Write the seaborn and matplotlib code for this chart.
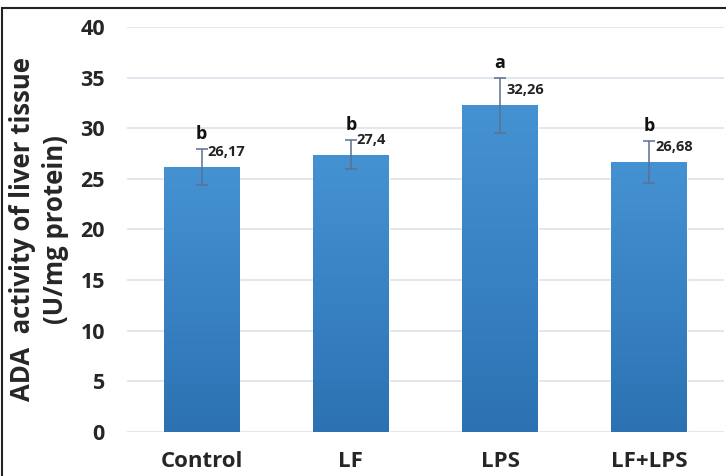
import matplotlib
matplotlib.use("Agg")
import matplotlib.pyplot as plt
import seaborn as sns
import pandas as pd
import numpy as np
from matplotlib.patches import Rectangle

groups = ["Control", "LF", "LPS", "LF+LPS"]
values = [26.17, 27.4, 32.26, 26.68]
errors = [1.8, 1.45, 2.7, 2.05]
value_labels = ["26,17", "27,4", "32,26", "26,68"]
letters = ["b", "b", "a", "b"]
yticks = [0, 5, 10, 15, 20, 25, 30, 35, 40]

sns.set_theme(style="white")
plt.rcParams["font.family"] = ["Open Sans", "DejaVu Sans"]

df = pd.DataFrame({"group": groups, "value": values})

fig = plt.figure(figsize=(7.26, 4.76), dpi=100)
ax = fig.add_axes([0.175, 0.0924, 0.822, 0.851])

sns.barplot(data=df, x="group", y="value", color="#3a86c9", width=0.507,
            saturation=1, ax=ax, errorbar=None)

# vertical gradient inside each bar (lighter at top, darker at bottom)
grad = np.linspace(0, 1, 256).reshape(-1, 1)
cmap = matplotlib.colors.LinearSegmentedColormap.from_list("g", ["#2c72b3", "#4592d3"])
for patch in list(ax.patches):
    x0, y0 = patch.get_x(), patch.get_y()
    w, h = patch.get_width(), patch.get_height()
    im = ax.imshow(grad, extent=[x0, x0 + w, y0, y0 + h], origin="lower",
                   cmap=cmap, aspect="auto", zorder=patch.get_zorder() + 0.1)
    im.set_clip_path(patch)

ax.errorbar(range(len(groups)), values, yerr=errors, fmt="none",
            ecolor="#5b7092", elinewidth=1.1, capsize=4, capthick=1.1, zorder=5)

for i, (v, e, lab, let) in enumerate(zip(values, errors, value_labels, letters)):
    ax.annotate(lab, (i, v), xytext=(6, 8), textcoords="offset pixels",
                ha="left", va="bottom", fontsize=10.5, fontweight="bold", color="#222222")
    ax.annotate(let, (i, v + e), xytext=(0, 6), textcoords="offset pixels",
                ha="center", va="bottom", fontsize=13, fontweight="bold", color="#111111")

ax.set_ylim(0, 40)
ax.set_xlim(-0.5, 3.5)
ax.set_yticks(yticks)
ax.set_yticklabels([str(t) for t in yticks], fontsize=15.5, fontweight="bold")
ax.tick_params(axis="y", pad=16, length=0)
ax.tick_params(axis="x", pad=14, length=0, labelsize=16)
for t in ax.get_xticklabels():
    t.set_fontweight("bold")
ax.yaxis.grid(True, color="#dde3ea", linewidth=1.2)
ax.set_axisbelow(True)
for s in ax.spines.values():
    s.set_visible(False)
ax.set_xlabel("")
ax.set_ylabel("ADA  activity of liver tissue\n(U/mg protein)", fontsize=18.5,
              fontweight="bold", labelpad=8, linespacing=1.3)

fig.patches.append(Rectangle((2 / 726, -0.1), 1.2, 1.1 - 8 / 476,
                             transform=fig.transFigure, fill=False,
                             edgecolor="#222222", linewidth=1.5))
fig.savefig("out.png", dpi=100)
